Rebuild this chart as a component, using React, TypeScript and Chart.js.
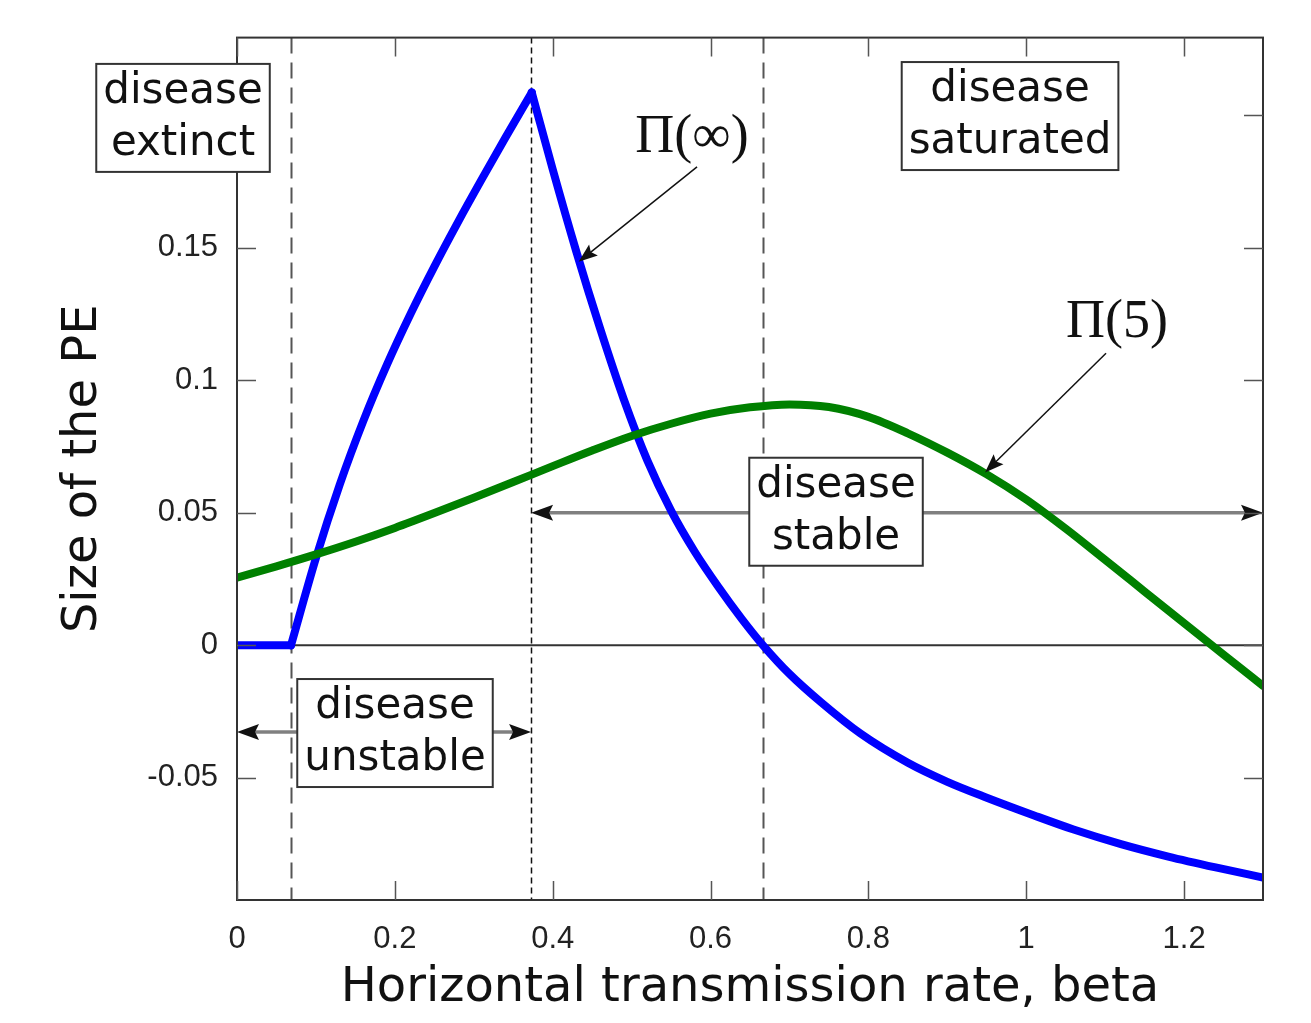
import React, { useEffect, useRef } from 'react';
import { Chart, registerables } from 'chart.js';

Chart.register(...registerables);

// ---------- data ----------
const blueFlatBeta = [0, 0.0684];
const blueFlatValue = [0, 0];
const blueRiseBeta = [0.0684, 0.1, 0.13, 0.16, 0.19, 0.22, 0.25, 0.28, 0.31, 0.34, 0.3735];
const blueRiseValue = [0, 0.0329, 0.0605, 0.0846, 0.1059, 0.1251, 0.1429, 0.1597, 0.1758, 0.1915, 0.2086];
const blueFallBeta = [0.3735, 0.4, 0.43, 0.46, 0.49, 0.52, 0.55, 0.58, 0.61, 0.64, 0.6665, 0.7, 0.74, 0.79, 0.85, 0.9, 0.95, 1.01, 1.06, 1.12, 1.18, 1.24, 1.3];
const blueFallValue = [0.2086, 0.1796, 0.1485, 0.1196, 0.0929, 0.0697, 0.0508, 0.0353, 0.022, 0.0098, 0, -0.0108, -0.0215, -0.0333, -0.0443, -0.0515, -0.0575, -0.0642, -0.0695, -0.075, -0.0797, -0.0838, -0.0876];
const greenBeta = [0, 0.05, 0.1, 0.15, 0.2, 0.25, 0.3, 0.35, 0.4, 0.45, 0.5, 0.55, 0.6, 0.65, 0.7, 0.75, 0.8, 0.85, 0.9, 0.95, 1.0, 1.05, 1.1, 1.15, 1.2, 1.25, 1.3];
const greenValue = [0.0255, 0.0298, 0.0343, 0.0391, 0.0443, 0.0499, 0.0557, 0.0616, 0.0676, 0.0735, 0.079, 0.0836, 0.0874, 0.0898, 0.0909, 0.0899, 0.0862, 0.08, 0.0727, 0.0645, 0.055, 0.044, 0.0322, 0.0203, 0.0084, -0.0035, -0.0153];

const thresholds = [0.0684, 0.3726, 0.6665];

const xTickValues = [0, 0.2, 0.4, 0.6, 0.8, 1, 1.2];
const xTickLabels = ['0', '0.2', '0.4', '0.6', '0.8', '1', '1.2'];
const yTickValues = [-0.05, 0, 0.05, 0.1, 0.15, 0.2];
const yTickLabels = ['-0.05', '0', '0.05', '0.1', '0.15', '0.2'];

const xTitle = 'Horizontal transmission rate, beta';
const yTitle = 'Size of the PE';
const boxLabels = [
  ['disease', 'extinct'],
  ['disease', 'saturated'],
  ['disease', 'unstable'],
  ['disease', 'stable'],
];
const curveLabels = ['Π(∞)', 'Π(5)'];

// ---------- annotation placement (data coordinates) ----------
const boxAnchors = [
  { beta: -0.0684, value: 0.199 },
  { beta: 0.9795, value: 0.1997 },
  { beta: 0.2002, value: -0.0331 },
  { beta: 0.759, value: 0.0504 },
];
const curveLabelAnchors = [
  { beta: 0.5765, value: 0.1861 },
  { beta: 1.115, value: 0.1162 },
];
const curveArrows = [
  { from: [0.5829, 0.1805], to: [0.4329, 0.1447] },
  { from: [1.1011, 0.1102], to: [0.9478, 0.0652] },
];
const rangeArrows = [
  { from: 0, to: 0.3726, value: -0.0327 },
  { from: 0.3726, to: 1.3, value: 0.05 },
];

const toPoints = (xs: number[], ys: number[]) => xs.map((x, i) => ({ x, y: ys[i] }));

function arrowHead(ctx: CanvasRenderingContext2D, fx: number, fy: number, tx: number, ty: number, len: number, half: number, color: string) {
  const ang = Math.atan2(ty - fy, tx - fx);
  ctx.save();
  ctx.translate(tx, ty);
  ctx.rotate(ang);
  ctx.beginPath();
  ctx.moveTo(0, 0);
  ctx.lineTo(-len, -half);
  ctx.lineTo(-len * 0.82, 0);
  ctx.lineTo(-len, half);
  ctx.closePath();
  ctx.fillStyle = color;
  ctx.fill();
  ctx.restore();
}

const overlay = {
  id: 'overlay',
  beforeDatasetsDraw(chart: any) {
    const { ctx, chartArea: a, scales } = chart;
    const xs = scales.x, ys = scales.y;
    ctx.save();
    // threshold lines
    thresholds.forEach((t, i) => {
      const x = Math.round(xs.getPixelForValue(t)) + 0.5;
      ctx.beginPath();
      if (i === 1) {
        ctx.setLineDash([6, 4]);
        ctx.strokeStyle = '#111';
        ctx.lineWidth = 1.5;
      } else {
        ctx.setLineDash([16, 9]);
        ctx.strokeStyle = '#555';
        ctx.lineWidth = 2;
      }
      ctx.moveTo(x, a.top);
      ctx.lineTo(x, a.bottom);
      ctx.stroke();
    });
    ctx.setLineDash([]);
    // zero line
    const y0 = ys.getPixelForValue(0);
    ctx.beginPath();
    ctx.strokeStyle = '#333';
    ctx.lineWidth = 2;
    ctx.moveTo(a.left, y0);
    ctx.lineTo(a.right, y0);
    ctx.stroke();
    // range arrows
    rangeArrows.forEach((r) => {
      const x1 = xs.getPixelForValue(r.from);
      const x2 = xs.getPixelForValue(r.to);
      const y = ys.getPixelForValue(r.value);
      ctx.beginPath();
      ctx.strokeStyle = '#808080';
      ctx.lineWidth = 3.5;
      ctx.moveTo(x1 + 10, y);
      ctx.lineTo(x2 - 10, y);
      ctx.stroke();
      arrowHead(ctx, x2, y, x1, y, 22, 8, '#111');
      arrowHead(ctx, x1, y, x2, y, 22, 8, '#111');
    });
    ctx.restore();
  },
  afterDatasetsDraw(chart: any) {
    const { ctx, chartArea: a, scales } = chart;
    const xs = scales.x, ys = scales.y;
    ctx.save();
    // frame
    ctx.strokeStyle = '#333';
    ctx.lineWidth = 2;
    ctx.strokeRect(a.left, a.top, a.right - a.left, a.bottom - a.top);
    // inward ticks on all sides
    ctx.strokeStyle = '#555';
    ctx.lineWidth = 1.5;
    const tl = 19;
    ctx.beginPath();
    xTickValues.forEach((v) => {
      const x = Math.round(xs.getPixelForValue(v)) + 0.5;
      ctx.moveTo(x, a.bottom);
      ctx.lineTo(x, a.bottom - tl);
      ctx.moveTo(x, a.top);
      ctx.lineTo(x, a.top + tl);
    });
    yTickValues.forEach((v) => {
      const y = Math.round(ys.getPixelForValue(v)) + 0.5;
      ctx.moveTo(a.left, y);
      ctx.lineTo(a.left + tl, y);
      ctx.moveTo(a.right, y);
      ctx.lineTo(a.right - tl, y);
    });
    ctx.stroke();
    // curve arrows
    curveArrows.forEach((c) => {
      const fx = xs.getPixelForValue(c.from[0]);
      const fy = ys.getPixelForValue(c.from[1]);
      const tx = xs.getPixelForValue(c.to[0]);
      const ty = ys.getPixelForValue(c.to[1]);
      const ang = Math.atan2(ty - fy, tx - fx);
      ctx.beginPath();
      ctx.strokeStyle = '#111';
      ctx.lineWidth = 1.5;
      ctx.moveTo(fx, fy);
      ctx.lineTo(tx - Math.cos(ang) * 12, ty - Math.sin(ang) * 12);
      ctx.stroke();
      arrowHead(ctx, fx, fy, tx, ty, 19, 7, '#111');
    });
    // curve labels
    ctx.fillStyle = '#111';
    ctx.font = '54px "Liberation Serif"';
    ctx.textAlign = 'center';
    ctx.textBaseline = 'alphabetic';
    curveLabels.forEach((t, i) => {
      const p = curveLabelAnchors[i];
      ctx.fillText(t, xs.getPixelForValue(p.beta), ys.getPixelForValue(p.value));
    });
    // boxes
    ctx.font = '42px "DejaVu Sans"';
    ctx.textBaseline = 'middle';
    const lineH = 52;
    boxLabels.forEach((lines, i) => {
      const p = boxAnchors[i];
      const cx = xs.getPixelForValue(p.beta);
      const cy = ys.getPixelForValue(p.value);
      const w = Math.max(...lines.map((l) => ctx.measureText(l).width)) + 14;
      const h = lines.length * lineH + 4;
      ctx.fillStyle = '#fff';
      ctx.fillRect(cx - w / 2, cy - h / 2, w, h);
      ctx.strokeStyle = '#333';
      ctx.lineWidth = 2;
      ctx.strokeRect(cx - w / 2, cy - h / 2, w, h);
      ctx.fillStyle = '#111';
      lines.forEach((l, j) => {
        ctx.fillText(l, cx, cy + (j - (lines.length - 1) / 2) * lineH);
      });
    });
    ctx.restore();
  },
};

export default function App() {
  const ref = useRef<HTMLCanvasElement>(null);
  useEffect(() => {
    const lineBase = {
      borderWidth: 8,
      pointRadius: 0,
      fill: false,
      cubicInterpolationMode: 'monotone' as const,
      borderCapStyle: 'round' as const,
      borderJoinStyle: 'round' as const,
      clip: 0,
    };
    const chart = new Chart(ref.current as HTMLCanvasElement, {
      type: 'line',
      data: {
        datasets: [
          { ...lineBase, label: 'Π(5)', data: toPoints(greenBeta, greenValue), borderColor: '#008000' },
          { ...lineBase, label: 'Π(∞) flat', data: toPoints(blueFlatBeta, blueFlatValue), borderColor: '#0000ff' },
          { ...lineBase, label: 'Π(∞) rise', data: toPoints(blueRiseBeta, blueRiseValue), borderColor: '#0000ff' },
          { ...lineBase, label: 'Π(∞) fall', data: toPoints(blueFallBeta, blueFallValue), borderColor: '#0000ff' },
        ],
      },
      options: {
        animation: false,
        responsive: false,
        devicePixelRatio: 1,
        events: [],
        layout: { padding: { top: 35, right: 48, left: 0, bottom: 0 } },
        plugins: { legend: { display: false }, tooltip: { enabled: false } },
        scales: {
          x: {
            type: 'linear',
            min: 0,
            max: 1.3,
            afterBuildTicks: (s: any) => {
              s.ticks = xTickValues.map((v) => ({ value: v }));
            },
            afterFit: (s: any) => {
              s.height = 123;
            },
            grid: { display: false, drawTicks: false },
            border: { display: false },
            ticks: {
              autoSkip: false,
              maxRotation: 0,
              padding: 21,
              color: '#222',
              font: { family: '"Liberation Sans"', size: 31 },
              callback: (_v: any, i: number) => xTickLabels[i],
            },
            title: {
              display: true,
              text: xTitle,
              color: '#111',
              font: { family: '"DejaVu Sans"', size: 48 },
              padding: { top: 0, bottom: 6 },
            },
          },
          y: {
            type: 'linear',
            min: -0.0961,
            max: 0.2293,
            afterBuildTicks: (s: any) => {
              s.ticks = yTickValues.map((v) => ({ value: v }));
            },
            afterFit: (s: any) => {
              s.width = 237;
            },
            grid: { display: false, drawTicks: false },
            border: { display: false },
            ticks: {
              autoSkip: false,
              padding: 19,
              color: '#222',
              font: { family: '"Liberation Sans"', size: 31 },
              callback: (_v: any, i: number) => yTickLabels[i],
            },
            title: {
              display: true,
              text: yTitle,
              color: '#111',
              font: { family: '"DejaVu Sans"', size: 48 },
              padding: { top: 55, bottom: 0 },
            },
          },
        },
      },
      plugins: [overlay],
    } as any);
    return () => chart.destroy();
  }, []);
  return (
    <div style={{ position: 'fixed', left: 0, top: 0, width: 1311, height: 1023, background: '#fff' }}>
      <canvas ref={ref} width={1311} height={1023} style={{ display: 'block', width: 1311, height: 1023 }} />
    </div>
  );
}
